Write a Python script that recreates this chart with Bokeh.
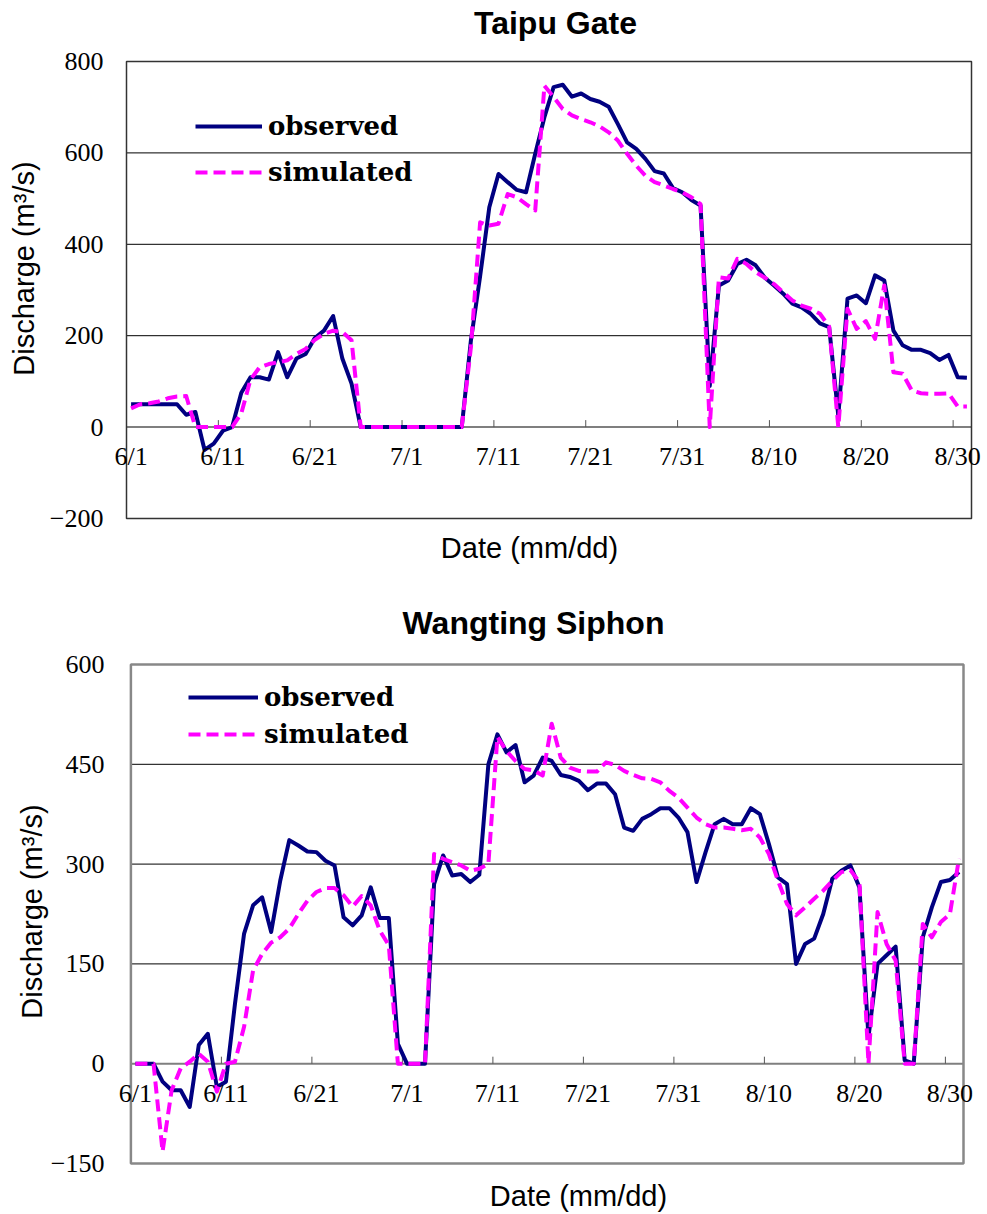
import math
from bokeh.plotting import figure
from bokeh.models import (ColumnDataSource, Legend, LegendItem, LabelSet, Label, Range1d)
from bokeh.layouts import column
from bokeh.embed import file_html
from bokeh.resources import INLINE

# ---------------- data ----------------
months = [("6", 30), ("7", 31), ("8", 31)]
dates = [f"{m}/{d}" for m, n in months for d in range(1, n + 1)]  # 92 daily categories
day_idx = list(range(len(dates)))

tick_labels = ["6/1", "6/11", "6/21", "7/1", "7/11", "7/21", "7/31", "8/10", "8/20", "8/30"]

taipu_observed = [
    50, 50, 50, 50, 50, 50, 27, 33, -50, -36,
    -8, 0, 75, 109, 109, 104, 164, 109, 150, 160,
    195, 211, 243, 150, 95, 0, 0, 0, 0, 0,
    0, 0, 0, 0, 0, 0, 0, 190, 330, 481,
    554, 536, 519, 514, 598, 678, 744, 749, 723, 730,
    718, 712, 701, 663, 623, 609, 587, 560, 555, 523,
    514, 497, 485, 90, 310, 321, 357, 366, 354, 327,
    310, 292, 270, 262, 248, 227, 219, 25, 281, 288,
    271, 332, 321, 211, 179, 169, 169, 162, 147, 158,
    109, 108]
taipu_simulated = [
    41, 50, 52, 56, 63, 67, 68, 0, 0, 0,
    0, 0, 30, 104, 131, 138, 142, 146, 160, 171,
    191, 204, 211, 208, 190, 0, 0, 0, 0, 0,
    0, 0, 0, 0, 0, 0, 0, 175, 448, 441,
    445, 510, 503, 488, 474, 747, 722, 696, 682, 674,
    667, 658, 645, 627, 598, 572, 550, 536, 529, 521,
    514, 503, 488, 0, 328, 325, 368, 357, 339, 327,
    313, 295, 277, 266, 259, 248, 220, 0, 259, 215,
    232, 193, 310, 120, 117, 80, 74, 73, 73, 74,
    45, 45]

wangting_observed = [
    0, 0, 0, -27, -40, -40, -65, 28, 45, -35,
    -27, 90, 195, 238, 250, 198, 275, 336, 328, 319,
    318, 305, 298, 220, 208, 223, 265, 219, 219, 30,
    0, 0, 0, 270, 313, 283, 285, 273, 284, 450,
    495, 468, 479, 423, 433, 460, 455, 434, 431, 425,
    411, 421, 421, 405, 355, 350, 368, 375, 384, 384,
    370, 348, 273, 318, 360, 368, 360, 360, 384, 375,
    330, 280, 270, 150, 180, 188, 225, 278, 290, 298,
    265, 40, 150, 163, 176, 5, 0, 190, 235, 273,
    276, 288]
wangting_simulated = [
    0, 0, 0, -132, -40, -7, 3, 15, 3, -42,
    0, 3, 55, 140, 165, 182, 190, 203, 225, 245,
    258, 264, 264, 253, 236, 252, 238, 200, 178, 0,
    0, 0, 0, 315, 308, 303, 298, 290, 293, 300,
    491, 470, 455, 443, 441, 433, 511, 460, 445, 440,
    439, 439, 453, 449, 440, 434, 429, 428, 423, 410,
    400, 385, 370, 360, 355, 355, 353, 351, 353, 340,
    315, 275, 240, 223, 235, 248, 260, 275, 288, 291,
    273, 0, 228, 180, 155, 0, 0, 210, 190, 213,
    225, 308]

taipu_yticks = [-200, 0, 200, 400, 600, 800]
wangting_yticks = [-150, 0, 150, 300, 450, 600]

OBS_COLOR = "#000080"
SIM_COLOR = "#FF00FF"
FIG_W = 987


def make_panel(title, obs, sim, yticks, fig_h, lay):
    box_l, box_r, box_t, box_b = lay["box"]
    ymin, ymax = yticks[0], yticks[-1]
    n = len(dates)
    dpp = n / (box_r - box_l)                 # days per pixel
    vpp = (ymax - ymin) / (box_b - box_t)     # value per pixel

    def px_x(px):
        return -0.5 + (px - box_l) * dpp

    def px_y(py):
        return ymax - (py - box_t) * vpp

    p = figure(width=FIG_W, height=fig_h,
               x_range=Range1d(px_x(0), px_x(FIG_W)),
               y_range=Range1d(px_y(fig_h), px_y(0)),
               output_backend="svg", toolbar_location=None,
               x_axis_location=None, y_axis_location=None,
               min_border=0, min_border_left=0, min_border_right=0,
               min_border_top=0, min_border_bottom=0)
    p.title.visible = False
    p.background_fill_color = "white"
    p.border_fill_color = "white"
    p.outline_line_color = None
    p.xgrid.visible = False
    p.ygrid.visible = False

    # horizontal gridlines inside the plot box
    inner = [t for t in yticks if t not in (ymin, ymax, 0)]
    p.segment(x0=[-0.5] * len(inner), x1=[n - 0.5] * len(inner), y0=inner, y1=inner,
              line_color="black", line_width=1)
    # zero line
    p.segment(x0=[-0.5], x1=[n - 0.5], y0=[0], y1=[0], line_color="#7f7f7f", line_width=2)

    # x ticks at category boundaries, rising from the zero line
    tick_len = 7 * vpp
    bounds = [k - 0.5 for k in range(10, n, 10)]
    p.segment(x0=bounds, x1=bounds, y0=[0] * len(bounds), y1=[tick_len] * len(bounds),
              line_color="#555555", line_width=1)

    # plot box
    p.quad(left=[-0.5], right=[n - 0.5], bottom=[ymin], top=[ymax],
           fill_color=None, line_color=lay["outline"][0], line_width=lay["outline"][1])

    # x tick labels just under the zero line
    lab_days = [dates.index(t) for t in tick_labels]
    lab_src = ColumnDataSource(dict(x=lab_days, y=[0] * len(lab_days), text=tick_labels))
    p.add_layout(LabelSet(x="x", y="y", text="text", source=lab_src,
                          text_font="Liberation Serif", text_font_size="26px",
                          text_align="center", text_baseline="top",
                          y_offset=-15, text_color="black"))

    # y tick labels
    ytxt = [(f"\u2212{abs(t)}" if t < 0 else str(t)) for t in yticks]
    ysrc = ColumnDataSource(dict(x=[px_x(lay["ytick_right"])] * len(yticks), y=yticks, text=ytxt))
    p.add_layout(LabelSet(x="x", y="y", text="text", source=ysrc,
                          text_font="Liberation Serif", text_font_size="26px",
                          text_align="right", text_baseline="middle", text_color="black"))

    # title and axis titles
    tx, ty = lay["title"]
    p.add_layout(Label(x=px_x(tx), y=px_y(ty), text=title, text_align="center",
                       text_baseline="middle", text_font="Liberation Sans",
                       text_font_size="32px", text_font_style="bold", text_color="black"))
    lx, ly = lay["ylabel"]
    p.add_layout(Label(x=px_x(lx), y=px_y(ly), text="Discharge (m\u00b3/s)", angle=math.pi / 2,
                       text_align="center", text_baseline="middle", text_font="Liberation Sans",
                       text_font_size="29px", text_color="black"))
    xx, xy = lay["xlabel"]
    p.add_layout(Label(x=px_x(xx), y=px_y(xy), text="Date (mm/dd)",
                       text_align="center", text_baseline="middle", text_font="Liberation Sans",
                       text_font_size="29px", text_color="black"))

    src = ColumnDataSource(dict(day=day_idx, obs=obs, sim=sim))
    r_obs = p.line(x="day", y="obs", source=src, line_color=OBS_COLOR,
                   line_width=4, line_join="round")
    r_sim = p.line(x="day", y="sim", source=src, line_color=SIM_COLOR,
                   line_width=4, line_dash="12 6", line_join="round")

    lg_l, lg_b, lg_w, lg_h, lg_sp = lay["legend"]
    legend = Legend(items=[LegendItem(label="observed", renderers=[r_obs]),
                           LegendItem(label="simulated", renderers=[r_sim])],
                    location=(lg_l, fig_h - lg_b))
    legend.label_text_font = "DejaVu Serif"
    legend.label_text_font_size = "26px"
    legend.label_text_font_style = "bold"
    legend.label_text_color = "black"
    legend.glyph_width = lg_w
    legend.glyph_height = lg_h
    legend.label_height = lg_h
    legend.spacing = lg_sp
    legend.padding = 0
    legend.margin = 0
    legend.label_standoff = 6
    legend.border_line_color = None
    legend.background_fill_alpha = 0
    p.add_layout(legend)
    return p


# pixel layout of each panel (figure coordinates, y downwards)
top_layout = dict(box=(126, 971, 61, 518), outline=("#333333", 1.5),
                  title=(555, 22), ylabel=(23, 268), xlabel=(529, 547), ytick_right=103,
                  legend=(195, 192, 67, 40, 6))
bottom_layout = dict(box=(130.4, 963, 74, 573), outline=("#888888", 2.5),
                     title=(533, 32), ylabel=(31, 321), xlabel=(578, 605), ytick_right=104,
                     legend=(188, 160.5, 70, 34, 3))

p1 = make_panel("Taipu Gate", taipu_observed, taipu_simulated, taipu_yticks, 590, top_layout)
p2 = make_panel("Wangting Siphon", wangting_observed, wangting_simulated, wangting_yticks,
                624, bottom_layout)

layout = column(p1, p2)
open("out.html", "w").write(file_html(layout, INLINE))
